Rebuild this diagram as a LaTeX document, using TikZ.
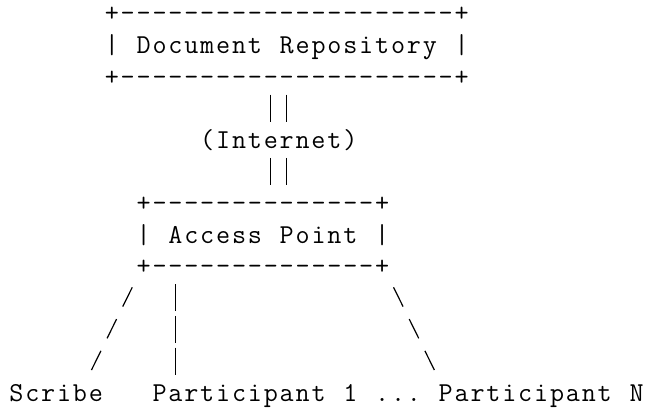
\documentclass[tikz,border=0pt]{standalone}
\ExplSyntaxOn
\NewDocumentCommand\asciirow{m}{\str_map_inline:nn{#1}{\makebox[11.925pt][c]{##1}}}
\ExplSyntaxOff

\begin{document}
\begin{tikzpicture}[x=11.925pt, y=-23.7pt,
  ascii/.style={anchor=base west, inner sep=0pt, outer sep=0pt, font=\ttfamily\fontsize{20.5}{24}\selectfont},
  wire/.style={line width=0.9pt},
  pipe/.style={wire, dash pattern=on 20.25pt off 3.45pt},
  slant/.style={wire, dash pattern=on 16.1pt off 10.45pt}]
\fill[white] (-0.535,0.307) rectangle (40.031,13.218);
\useasboundingbox (-0.535,0.307) rectangle (40.031,13.218);

% repository box
\node[ascii] (repotop) at (6,1) {\asciirow{+---------------------+}};
\node[ascii] (repo) at (6,2) {\asciirow{| Document Repository |}};
\node[ascii] (repobot) at (6,3) {\asciirow{+---------------------+}};
\node[ascii] (net) at (12,5) {\asciirow{(Internet)}};
% access point box
\node[ascii] (aptop) at (8,7) {\asciirow{+--------------+}};
\node[ascii] (ap) at (8,8) {\asciirow{| Access Point |}};
\node[ascii] (apbot) at (8,9) {\asciirow{+--------------+}};
% bottom row
\node[ascii] (scribe) at (0,13) {\asciirow{Scribe}};
\node[ascii] (p1) at (9,13) {\asciirow{Participant 1}};
\node[ascii] (dots) at (23,13) {\asciirow{...}};
\node[ascii] (pn) at (27,13) {\asciirow{Participant N}};

\draw[pipe] ([shift={(10.5,.304)}]repobot.base west) -- ([shift={(4.5,-.842)}]net.base west);
\draw[pipe] ([shift={(11.5,.304)}]repobot.base west) -- ([shift={(5.5,-.842)}]net.base west);
\draw[pipe] ([shift={(4.5,.304)}]net.base west) -- ([shift={(8.5,-.842)}]aptop.base west);
\draw[pipe] ([shift={(5.5,.304)}]net.base west) -- ([shift={(9.5,-.842)}]aptop.base west);
\draw[slant] ([shift={(-.217,.399)}]apbot.base west) -- ([shift={(5.217,-.984)}]scribe.base west);
\draw[pipe] ([shift={(2.5,.304)}]apbot.base west) -- ([shift={(1.5,-.842)}]p1.base west);
\draw[slant] ([shift={(16.217,.399)}]apbot.base west) -- ([shift={(-.217,-.984)}]pn.base west);
\end{tikzpicture}
\end{document}
